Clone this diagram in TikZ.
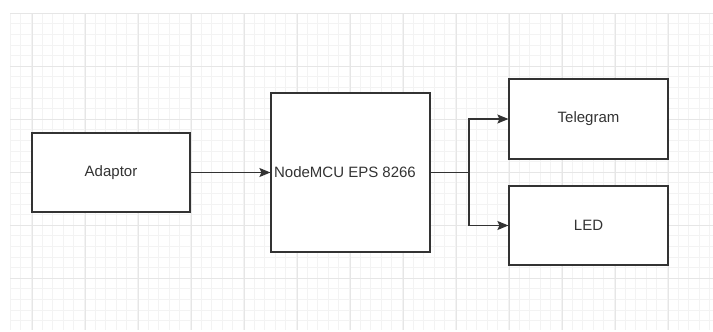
\documentclass[tikz,border=0pt]{standalone}
\usepackage{fontspec}
\setmainfont{Liberation Sans}
\usetikzlibrary{arrows.meta}
\definecolor{linec}{HTML}{333333}
\definecolor{textc}{HTML}{333333}
\definecolor{gridminor}{HTML}{F3F3F3}
\definecolor{gridmajor}{HTML}{E6E6E6}
\tikzset{myhead/.tip={Stealth[length=11pt,width=9pt,inset=2pt]}}
\begin{document}
\begin{tikzpicture}[x=1pt,y=-1pt,
  blockbox/.style={draw=linec, line width=1.2pt, fill=white, text=textc, font=\fontsize{15}{18}\selectfont, inner sep=0pt},
  conn/.style={draw=linec, line width=1.1pt},
  arr/.style={conn, -myhead}]
\useasboundingbox (0,0) rectangle (713,332);
\fill[white] (0,0) rectangle (713,332);
% grid
\foreach \i in {0,...,66} {
  \pgfmathsetmacro{\xx}{10+\i*10.6}
  \draw[gridminor, line width=0.6pt] (\xx,13) -- (\xx,330);
}
\foreach \j in {0,...,29} {
  \pgfmathsetmacro{\yy}{13+\j*10.6}
  \draw[gridminor, line width=0.6pt] (10,\yy) -- (713,\yy);
}
\foreach \i in {0,...,13} {
  \pgfmathsetmacro{\xx}{32+\i*53}
  \draw[gridmajor, line width=0.8pt] (\xx,13) -- (\xx,330);
}
\foreach \j in {0,...,5} {
  \pgfmathsetmacro{\yy}{13+\j*53}
  \draw[gridmajor, line width=0.8pt] (10,\yy) -- (713,\yy);
}
% blocks
\node[blockbox, minimum width=158pt, minimum height=79pt] (adaptor) at (111,172.5) {Adaptor};
\node[blockbox, minimum width=159pt, minimum height=159pt] (mcu) at (350.5,172.5) {};
\node[text=textc, font=\fontsize{15}{18}\selectfont, anchor=west, inner sep=0pt] (mcutext) at (mcu.west) {\hspace{3.5pt}NodeMCU EPS 8266};
\node[blockbox, minimum width=159pt, minimum height=80pt] (tele) at (588.5,119) {Telegram};
\node[blockbox, minimum width=159pt, minimum height=79pt] (led) at (588.5,225.5) {LED};
\coordinate (split) at (469,172.5);
% connectors
\draw[arr] (adaptor.east) -- (mcu.west);
\draw[conn] (mcu.east) -- (split);
\draw[arr] (split) |- (tele.west);
\draw[arr] (split) |- (led.west);
\end{tikzpicture}
\end{document}
